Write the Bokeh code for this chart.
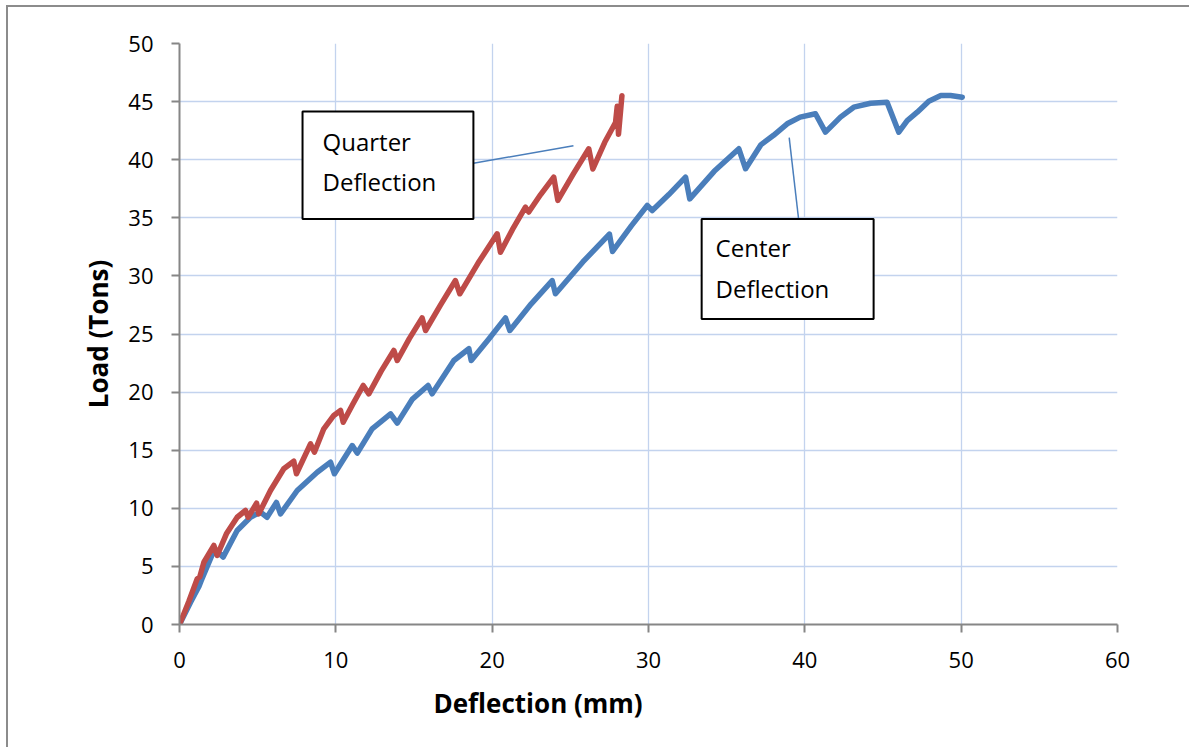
from bokeh.plotting import figure
from bokeh.models import Range1d, FixedTicker, Label, BoxAnnotation, Title
from bokeh.embed import file_html
from bokeh.resources import INLINE

# ---------------- data ----------------
quarter_x = [0, 0.6, 1.13, 1.3, 1.56, 2.2, 2.41, 3.0, 3.69, 4.22, 4.39, 4.93, 5.07,
             5.82, 6.67, 7.31, 7.48, 8.38, 8.63, 9.23, 9.87, 10.3, 10.47, 11.1, 11.75,
             12.11, 12.9, 13.71, 13.93, 14.7, 15.52, 15.74, 16.7, 17.65, 17.93, 19.1,
             20.32, 20.53, 21.3, 22.13, 22.34, 23.1, 23.94, 24.2, 25.2, 26.18, 26.44,
             27.2, 27.89, 28.0, 28.08, 28.3]
quarter_y = [0, 2.0, 3.93, 4.1, 5.36, 6.8, 5.94, 7.8, 9.23, 9.81, 9.23, 10.44, 9.52,
             11.53, 13.4, 14.05, 12.97, 15.55, 14.83, 16.84, 17.99, 18.42, 17.41, 19.0,
             20.57, 19.85, 21.8, 23.58, 22.72, 24.6, 26.39, 25.3, 27.5, 29.6, 28.46, 31.1,
             33.62, 32.04, 34.0, 35.91, 35.5, 37.0, 38.5, 36.5, 38.8, 40.94, 39.2,
             41.5, 43.2, 44.6, 42.2, 45.5]

center_x = [0, 0.7, 1.25, 1.4, 2.09, 2.4, 2.79, 3.69, 4.54, 5.18, 5.6, 6.2, 6.46,
            7.53, 8.81, 9.66, 9.91, 11.05, 11.37, 12.32, 13.5, 13.93, 14.9, 15.9, 16.16,
            17.55, 18.51, 18.66, 19.8, 20.85, 21.13, 22.5, 23.84, 24.05, 25.8, 27.5,
            27.7, 28.9, 29.92, 30.24, 31.3, 32.37, 32.64, 34.2, 35.78, 36.21, 37.2,
            38.0, 38.87, 39.7, 40.68, 41.32, 42.28, 43.13, 44.2, 45.26, 46.01, 46.55,
            47.19, 47.93, 48.7, 49.32, 50.07]
center_y = [0, 1.9, 3.3, 3.8, 6.0, 6.3, 5.8, 8.09, 9.23, 9.67, 9.23, 10.5, 9.52,
            11.53, 13.1, 13.97, 12.97, 15.4, 14.75, 16.84, 18.13, 17.33, 19.4, 20.57, 19.85,
            22.72, 23.73, 22.72, 24.6, 26.39, 25.3, 27.6, 29.6, 28.46, 31.2, 33.6,
            32.1, 34.3, 36.06, 35.63, 37.0, 38.5, 36.63, 39.0, 40.94, 39.22, 41.3,
            42.1, 43.09, 43.66, 43.95, 42.37, 43.66, 44.52, 44.86, 44.95, 42.37, 43.37,
            44.09, 45.03, 45.52, 45.52, 45.38]

x_ticks = [0, 10, 20, 30, 40, 50, 60]
y_ticks = [0, 5, 10, 15, 20, 25, 30, 35, 40, 45, 50]

x_title = "Deflection (mm)"
y_title = "Load (Tons)"
quarter_label = ["Quarter", "Deflection"]
center_label = ["Center", "Deflection"]

# ---------------- figure ----------------
FONT = "Open Sans"
AXIS_GREY = "#868686"
GRID_BLUE = "#c3d3ee"
BLUE = "#4a7ebb"
RED = "#be4b48"

p = figure(width=1183, height=742,
           x_range=Range1d(0, 60), y_range=Range1d(0, 50),
           output_backend="svg", toolbar_location=None,
           min_border_left=171, min_border_right=74,
           min_border_top=36, min_border_bottom=125)
p.margin = (5, 0, 0, 6)
p.styles = {"border-left": "2px solid #8c8c8c", "border-top": "2px solid #8c8c8c"}
p.outline_line_color = None
p.background_fill_color = "white"
p.border_fill_color = "white"

for ax, ticks in ((p.xaxis, x_ticks), (p.yaxis, y_ticks)):
    ax.ticker = FixedTicker(ticks=ticks)
    ax.axis_line_color = AXIS_GREY
    ax.axis_line_width = 2
    ax.major_tick_line_color = AXIS_GREY
    ax.major_tick_line_width = 2
    ax.major_tick_out = 8
    ax.major_tick_in = 0
    ax.minor_tick_line_color = None
    ax.major_label_text_font = FONT
    ax.major_label_text_font_size = "22px"
    ax.major_label_text_color = "black"
    ax.axis_label_text_font = FONT
    ax.axis_label_text_font_size = "26px"
    ax.axis_label_text_font_style = "bold"
    ax.axis_label_text_color = "black"

p.yaxis.axis_label = y_title
p.xaxis.major_label_standoff = 19
p.yaxis.major_label_standoff = 18
p.yaxis.axis_label_standoff = 9

# x title: in the reference it sits left of the frame centre -> a left-aligned Title below
p.add_layout(Title(text=x_title, align="left", offset=254, standoff=24,
                   text_font=FONT, text_font_size="26px", text_font_style="bold",
                   text_color="black"), "below")

for g in (p.xgrid, p.ygrid):
    g.grid_line_color = GRID_BLUE
    g.grid_line_width = 1.3
p.xgrid.ticker = FixedTicker(ticks=x_ticks)
p.ygrid.ticker = FixedTicker(ticks=y_ticks)

# ---------------- series ----------------
p.line(center_x, center_y, line_color=BLUE, line_width=5.5,
       line_join="round", line_cap="round")
p.line(quarter_x, quarter_y, line_color=RED, line_width=5.5,
       line_join="round", line_cap="round")

# ---------------- callouts ----------------
p.line([18.8, 25.2], [39.7, 41.2], line_color=BLUE, line_width=1.5)
p.line([39.6, 39.0], [34.9, 41.9], line_color=BLUE, line_width=1.5)

p.add_layout(BoxAnnotation(left=7.87, right=18.8, bottom=34.9, top=44.15,
                           fill_color="white", fill_alpha=1,
                           line_color="black", line_width=2, line_alpha=1))
p.add_layout(BoxAnnotation(left=33.4, right=44.4, bottom=26.3, top=34.9,
                           fill_color="white", fill_alpha=1,
                           line_color="black", line_width=2, line_alpha=1))

for txt, yy in zip(quarter_label, [41.57, 38.12]):
    p.add_layout(Label(x=9.15, y=yy, text=txt, text_font=FONT,
                       text_font_size="24px", text_baseline="middle",
                       text_align="left", text_color="black"))
for txt, yy in zip(center_label, [32.44, 28.92]):
    p.add_layout(Label(x=34.29, y=yy, text=txt, text_font=FONT,
                       text_font_size="24px", text_baseline="middle",
                       text_align="left", text_color="black"))

open("out.html", "w").write(file_html(p, INLINE))
